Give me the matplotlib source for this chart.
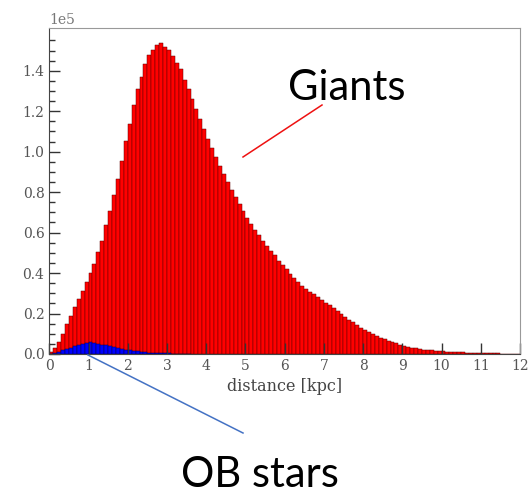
import numpy as np
import matplotlib.pyplot as plt
from matplotlib.lines import Line2D

# histogram of star counts per 0.1 kpc distance bin (units of 1e5)
bin_width = 0.1
giants = [0.012, 0.031, 0.061, 0.101, 0.147, 0.187, 0.233, 0.270, 0.313, 0.357,
          0.399, 0.445, 0.503, 0.561, 0.638, 0.706, 0.786, 0.866, 0.955, 1.051,
          1.137, 1.233, 1.309, 1.369, 1.433, 1.476, 1.504, 1.526, 1.538, 1.518,
          1.501, 1.471, 1.438, 1.409, 1.352, 1.309, 1.260, 1.213, 1.160, 1.114,
          1.064, 1.018, 0.972, 0.928, 0.889, 0.849, 0.813, 0.776, 0.740, 0.707,
          0.673, 0.641, 0.611, 0.586, 0.561, 0.536, 0.511, 0.487, 0.462, 0.442,
          0.421, 0.396, 0.376, 0.354, 0.338, 0.321, 0.304, 0.295, 0.283, 0.268,
          0.254, 0.240, 0.226, 0.211, 0.197, 0.183, 0.169, 0.156, 0.143, 0.130,
          0.119, 0.108, 0.098, 0.089, 0.080, 0.072, 0.065, 0.058, 0.052, 0.046,
          0.041, 0.036, 0.032, 0.028, 0.025, 0.022, 0.020, 0.018, 0.016, 0.014,
          0.013, 0.012, 0.011, 0.010, 0.009, 0.008, 0.007, 0.007, 0.006, 0.005,
          0.005, 0.004, 0.004, 0.003, 0.003, 0.002, 0.002, 0.002, 0.001, 0.001]
ob_stars = [0.002, 0.006, 0.012, 0.018, 0.025, 0.032, 0.039, 0.045, 0.051, 0.056,
            0.058, 0.056, 0.051, 0.046, 0.042, 0.038, 0.034, 0.030, 0.026, 0.022,
            0.019, 0.016, 0.013, 0.011, 0.009, 0.007, 0.006, 0.005, 0.004, 0.003,
            0.003, 0.002, 0.002, 0.001, 0.001, 0.001]

giants = np.array(giants) * 1e5
ob_stars = np.array(ob_stars) * 1e5
edges_g = np.arange(len(giants)) * bin_width
edges_ob = np.arange(len(ob_stars)) * bin_width

plt.rcParams['font.family'] = 'DejaVu Serif'

fig = plt.figure(figsize=(5.29, 4.99), dpi=100)
ax = fig.add_axes([0.0932, 0.2906, 0.8898, 0.6527])

ax.bar(edges_g, giants, width=bin_width, align='edge', color='#ff0000',
       edgecolor='#600000', linewidth=0.35)
ax.bar(edges_ob, ob_stars, width=bin_width, align='edge', color='#0000ff',
       edgecolor='#000050', linewidth=0.35)

ax.set_xlim(0, 12)
ax.set_ylim(0, 1.61e5)
ax.set_xticks(np.arange(0, 13, 1))
ax.set_yticks(np.arange(0, 1.5e5, 0.2e5))
ax.set_yticks(np.arange(0, 1.6e5, 0.05e5), minor=True)
ax.ticklabel_format(axis='y', style='sci', scilimits=(0, 0))

ax.tick_params(which='both', direction='in', colors='#333333', labelcolor='#555555',
               labelsize=10, top=False, right=False)
ax.tick_params(which='major', length=8, width=1)
ax.tick_params(which='minor', length=4.5, width=1)
ax.yaxis.get_offset_text().set_color('#777777')
ax.yaxis.get_offset_text().set_fontsize(10)
for s in ax.spines.values():
    s.set_color('#999999')
ax.spines['left'].set_color('#444444')
ax.spines['bottom'].set_color('#444444')

ax.set_xlabel('distance [kpc]', fontsize=11.5, color='#444444', labelpad=4)

# labels and pointer lines drawn on the figure
fig.text(347 / 529, 1 - 88 / 499, 'Giants', family='Lato', fontsize=30,
         ha='center', va='center', color='black')
fig.text(260 / 529, 1 - 475 / 499, 'OB stars', family='Lato', fontsize=30,
         ha='center', va='center', color='black')
fig.add_artist(Line2D([243 / 529, 322 / 529], [1 - 157 / 499, 1 - 105 / 499],
                      color='#ee1111', linewidth=1.1, transform=fig.transFigure))
fig.add_artist(Line2D([88 / 529, 243 / 529], [1 - 355 / 499, 1 - 433 / 499],
                      color='#4472c4', linewidth=1.1, transform=fig.transFigure))

fig.savefig('out.png', dpi=100, facecolor='white')
